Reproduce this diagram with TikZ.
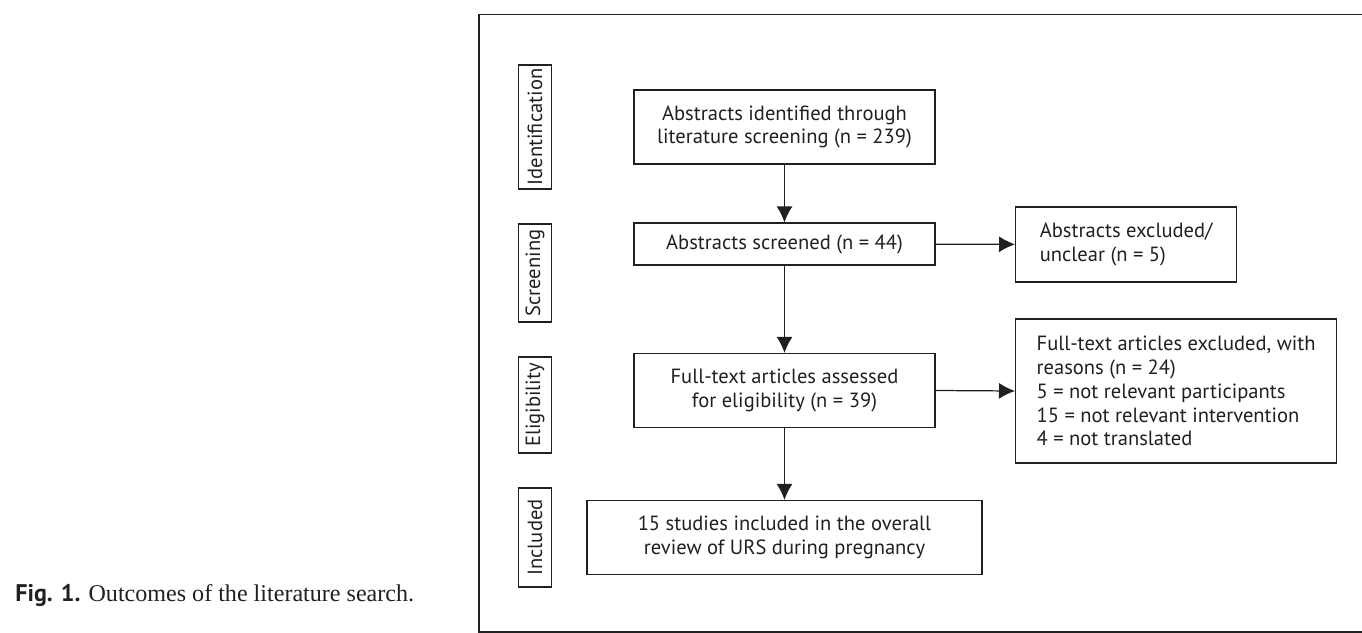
\documentclass[tikz,border=0pt]{standalone}
\usepackage{fontspec}
\setmainfont{Liberation Serif}
\setsansfont{PT Sans}
\usetikzlibrary{positioning,arrows.meta}
\definecolor{ink}{HTML}{231F20}
\newcommand{\boxfont}{\sffamily\fontsize{11.7pt}{13.6pt}\selectfont}

\begin{document}
\begin{tikzpicture}[x=0.2mm,y=-0.2mm,>={Latex[length=3.2mm,width=3.2mm]},
  every node/.style={text=ink},
  stagebox/.style={draw=ink,line width=0.7pt,font=\boxfont,align=center,
    minimum width=60.2mm,minimum height=14.8mm,inner sep=0pt},
  exclbox/.style={draw=ink,line width=0.7pt,font=\boxfont,align=left,
    inner xsep=4.2mm,inner ysep=0pt,anchor=west},
  phase/.style={draw=ink,line width=0.7pt,rotate=90,font=\boxfont,
    minimum height=6.5mm,inner sep=0pt},
  flow/.style={->,draw=ink,line width=0.7pt}]
\useasboundingbox (0,0) rectangle (1362,633);
% outer frame, its right side runs off the page
\draw[ink,line width=0.7pt] (1400,14.7) -- (479,14.7) -- (479,632) -- (1400,632);
% caption
\node[anchor=base west,inner sep=0pt,font=\fontsize{13.7pt}{15pt}\selectfont] (caption) at (15,601)
  {{\sffamily\bfseries Fig. 1.} Outcomes of the literature search.};
% phases
\node[phase,minimum width=24.8mm] (identification) at (535,127) {Identification};
\node[phase,minimum width=19.6mm] (screening) at (535,273) {Screening};
\node[phase,minimum width=19.2mm] (eligibility) at (535,405) {Eligibility};
\node[phase,minimum width=19.8mm] (included) at (535,537.5) {Included};
% main column
\node[stagebox] (identified) at (784.5,127) {Abstracts identified through\\literature screening (n = 239)};
\node[stagebox,minimum height=8.4mm] (screened) at (784.5,244) {Abstracts screened (n = 44)};
\node[stagebox] (assessed) at (784.5,390.5) {Full-text articles assessed\\for eligibility (n = 39)};
\node[stagebox,minimum width=79mm] (studies) at (784.5,537.5) {15 studies included in the overall\\review of URS during pregnancy};
% exclusions
\node[exclbox,minimum width=44.2mm,minimum height=15mm] (abstractsout) at (1015,244.5)
  {Abstracts excluded/\\unclear (n = 5)};
\node[exclbox,minimum width=63.6mm,minimum height=28.8mm] (fulltextout) at (1015,391)
  {Full-text articles excluded, with\\reasons (n = 24)\\5 = not relevant participants\\15 = not relevant intervention\\4 = not translated};
% arrows
\draw[flow] (identified) -- (screened);
\draw[flow] (screened) -- (assessed);
\draw[flow] (assessed) -- (studies);
\draw[flow] (screened) -- (abstractsout);
\draw[flow] (assessed.east) -- (fulltextout.west);
\end{tikzpicture}
\end{document}
